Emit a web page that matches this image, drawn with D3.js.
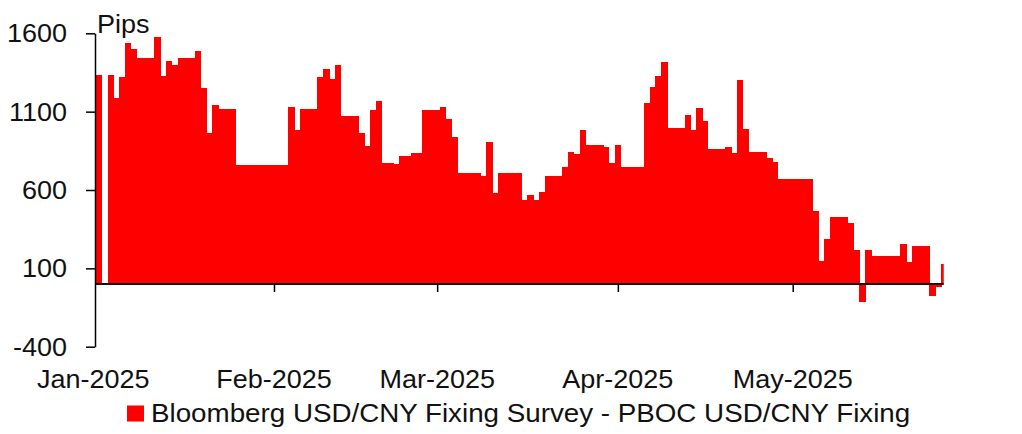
<!DOCTYPE html>
<html>
<head>
<meta charset="utf-8">
<script src="https://cdn.jsdelivr.net/npm/d3@7"></script>
<style>
  html, body { margin: 0; padding: 0; background: #fff; }
  svg text { font-family: "Liberation Sans", Arial, sans-serif; fill: #111; }
</style>
</head>
<body>
<svg id="chart" width="1022" height="434"></svg>
<script>
// ---- Data: daily spread (pips), one value per calendar day, null = no bar ----
const startDate = "2025-01-01";
const janValues = [null,1335,null,1335,1185,1320,1540,1500,1440,1440,1440,1575,1330,1425,1395,1440,1440,1440,1485,1250,965,1145,1115,1115,1115,760,760,760,760,760,760];
const febValues = [760,760,760,1130,985,1115,1115,1115,1320,1370,1310,1395,1070,1070,1070,965,880,1110,1170,770,770,768,820,815,835,835,1110,1110];
const marValues = [1110,1130,1055,940,710,710,710,710,690,905,580,710,710,710,710,538,570,538,590,690,690,690,745,845,830,980,890,890,890,875,770];
const aprValues = [890,745,745,745,745,1155,1255,1330,1420,995,995,995,1080,980,1125,1040,860,860,860,875,835,1300,990,840,840,840,805,780,670,670];
const mayValues = [670,670,670,670,465,150,285,430,430,430,390,215,-115,215,180,180,180,180,180,255,140,240,240,240,-75,-20,130];
const yTicks = [-400, 100, 600, 1100, 1600];
const monthTicks = ["2025-01-01","2025-02-01","2025-03-01","2025-04-01","2025-05-01"];
const seriesName = "Bloomberg USD/CNY Fixing Survey - PBOC USD/CNY Fixing";
const unitLabel = "Pips";

// ---- Build table ----
const parse = d3.utcParse("%Y-%m-%d");
const t0 = parse(startDate);
const allValues = [].concat(janValues, febValues, marValues, aprValues, mayValues);
const data = allValues.map((v, i) => ({ date: d3.utcDay.offset(t0, i), value: v }));
const lastDate = data[data.length - 1].date;

const svg = d3.select("#chart");
const plotLeft = 95;

const x = d3.scaleUtc()
  .domain([parse("2025-01-01"), parse("2025-05-01")])
  .range([93.3, 792.7]);
const y = d3.scaleLinear().domain([-400, 1600]).range([346.7, 33.3]);

const dayW = x(d3.utcDay.offset(t0, 1)) - x(t0);
const plotRight = x(lastDate) - 0.5;

svg.append("defs").append("clipPath").attr("id", "plotclip")
  .append("rect").attr("x", plotLeft).attr("y", 0)
  .attr("width", plotRight - plotLeft).attr("height", 434);

// bars (centred on their date)
svg.append("g").attr("clip-path", "url(#plotclip)")
  .attr("shape-rendering", "crispEdges")
  .selectAll("rect").data(data.filter(d => d.value !== null))
  .join("rect")
  .attr("x", d => x(d.date) - dayW / 2 - 0.3)
  .attr("width", dayW + 0.6)
  .attr("y", d => y(Math.max(0, d.value)))
  .attr("height", d => Math.abs(y(d.value) - y(0)))
  .attr("fill", "#ff0000");

// zero line with month ticks
const xAxis = d3.axisBottom(x)
  .tickValues(monthTicks.map(parse).filter((d, i) => i > 0))
  .tickSize(8).tickSizeOuter(0).tickFormat("");
const gx = svg.append("g").attr("transform", `translate(0,${y(0)})`).call(xAxis);
gx.select(".domain").remove();
gx.selectAll(".tick line").attr("stroke", "#000").attr("stroke-width", 1.5);
svg.append("line")
  .attr("x1", plotLeft).attr("x2", plotRight)
  .attr("y1", y(0)).attr("y2", y(0))
  .attr("stroke", "#111").attr("stroke-width", 2);

// month labels
svg.append("g").selectAll("text").data(monthTicks.map(parse))
  .join("text")
  .attr("x", d => x(d))
  .attr("y", 388)
  .attr("text-anchor", "middle")
  .attr("font-size", 25)
  .text(d => d3.utcFormat("%b-%Y")(d));

// y axis
const yAxis = d3.axisLeft(y).tickValues(yTicks).tickSize(9).tickSizeOuter(0).tickFormat("");
const gy = svg.append("g").attr("transform", `translate(${plotLeft},0)`).call(yAxis);
gy.select(".domain").attr("stroke", "#000").attr("stroke-width", 1.5);
gy.selectAll(".tick line").attr("stroke", "#000").attr("stroke-width", 1.5);
svg.append("g").selectAll("text").data(yTicks)
  .join("text")
  .attr("x", 67)
  .attr("y", d => y(d))
  .attr("dy", "0.36em")
  .attr("text-anchor", "end")
  .attr("font-size", 25)
  .text(d => d);

// unit label
svg.append("text").attr("x", 97).attr("y", 33).attr("font-size", 25).text(unitLabel);

// legend
svg.append("rect").attr("x", 127).attr("y", 405.5).attr("width", 17).attr("height", 16).attr("fill", "#ff0000");
svg.append("text").attr("class", "legend").attr("x", 151).attr("y", 421.5).attr("font-size", 25).text(seriesName);

// horizontal stretch of text to match reference rendering
svg.selectAll("text").each(function () {
  const n = this.getComputedTextLength();
  const k = this.classList.contains("legend") ? 1.11 : 1.08;
  d3.select(this).attr("textLength", n * k).attr("lengthAdjust", "spacingAndGlyphs");
});
</script>
</body>
</html>
